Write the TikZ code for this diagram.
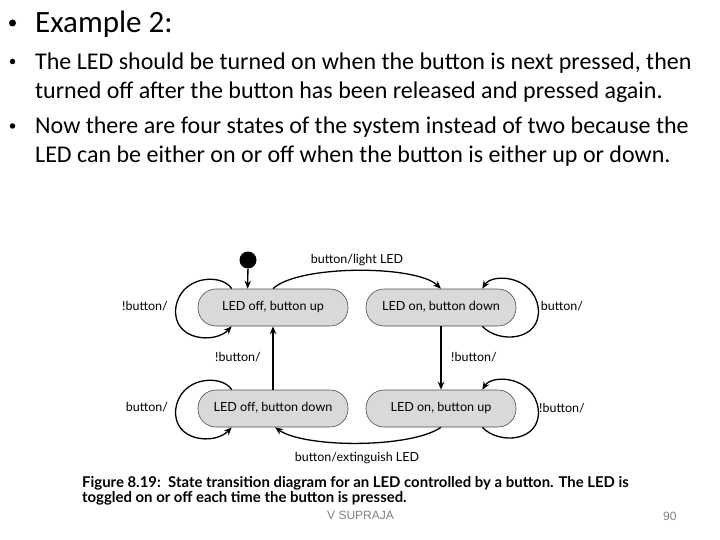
\documentclass[tikz,border=0pt]{standalone}
\usepackage{fontspec}
\setmainfont{Carlito}
\newfontfamily\diagfont{Lato}
\newfontfamily\footfont{Liberation Sans}
\usetikzlibrary{calc,arrows.meta}
\begin{document}
\begin{tikzpicture}[x=1pt,y=-1pt,
  state/.style={draw=black!70, line width=0.6pt, fill=black!15, rounded corners=18pt,
    minimum width=150pt, minimum height=37pt, inner sep=0pt, text height=9pt, text depth=3pt,
    font=\diagfont\fontsize{12.6}{14}\selectfont},
  lbl/.style={inner sep=0pt, text height=9pt, text depth=3pt, font=\diagfont\fontsize{12.5}{14}\selectfont},
  arr/.style={-{Stealth[length=8pt,width=6.5pt]}, line width=1.3pt},
  txt/.style={anchor=base west, inner sep=0pt, font=\fontsize{24}{28}\selectfont},
  bul/.style={circle, fill=black, inner sep=0pt, minimum size=#1},
  capt/.style={anchor=base west, inner sep=0pt, font=\diagfont\bfseries\fontsize{14.9}{15}\selectfont},
  foot/.style={anchor=base west, inner sep=0pt, text=black!50, font=\footfont\fontsize{12}{14}\selectfont},
]
\useasboundingbox (0,0) rectangle (720,540);

% slide text
\node[bul=7pt] (b0) at (12.5,23) {};
\node[txt, font=\fontsize{31}{34}\selectfont] (title) at (35,33) {Example 2:};
\node[bul=5.5pt] (b1) at (12.5,61.5) {};
\node[txt] (t1) at (35,70) {The LED should be turned on when the button is next pressed, then};
\node[txt] (t2) at (35,99) {turned off after the button has been released and pressed again.};
\node[bul=5.5pt] (b2) at (12.5,126) {};
\node[txt] (t3) at (35,134) {Now there are four states of the system instead of two because the};
\node[txt] (t4) at (35,163) {LED can be either on or off when the button is either up or down.};

% states
\node[bul=17pt] (init) at (248,260) {};
\node[state] (s1) at (273,307.5) {LED off, button up};
\node[state] (s2) at (441,307.5) {LED on, button down};
\node[state] (s3) at (273,408.5) {LED off, button down};
\node[state] (s4) at (441,408.5) {LED on, button up};

% initial arrow
\draw[arr] (init) -- ($(s1.north west)+(50,0)$);

% self loops
\draw[arr] ($(s1.north west)+(34,0)$) .. controls +(-10,-16) and +(4,-33) .. ($(s1.west)+(-22,1)$)
  .. controls +(-3,32) and +(-17,18) .. ($(s1.south west)+(34,0)$);
\draw[arr] ($(s3.north west)+(34,0)$) .. controls +(-10,-16) and +(4,-33) .. ($(s3.west)+(-22,1)$)
  .. controls +(-3,32) and +(-17,18) .. ($(s3.south west)+(34,0)$);
\draw[arr] ($(s2.south east)+(-34,0)$) .. controls +(17,18) and +(3,32) .. ($(s2.east)+(22,1)$)
  .. controls +(-4,-33) and +(10,-16) .. ($(s2.north east)+(-34,0)$);
\draw[arr] ($(s4.south east)+(-34,0)$) .. controls +(17,18) and +(3,32) .. ($(s4.east)+(22,1)$)
  .. controls +(-4,-33) and +(10,-16) .. ($(s4.north east)+(-34,0)$);

% transitions
\draw[arr] (s1.north) .. controls +(25,-24) and +(-25,-24) .. (s2.north);
\draw[arr] (s2.south) -- (s4.north);
\draw[arr] (s4.south) .. controls +(-30,21) and +(30,21) .. ($(s3.south)+(2,0)$);
\draw[arr] (s3.north) -- (s1.south);

% labels
\node[lbl] (l1) at (145,307) {!button/};
\node[lbl] (l2) at (562,307) {button/};
\node[lbl] (l3) at (147,408) {button/};
\node[lbl] (l4) at (562,409) {!button/};
\node[lbl] (l5) at (357,260) {button/light LED};
\node[lbl] (l6) at (238,358) {!button/};
\node[lbl] (l7) at (474,358) {!button/};
\node[lbl] (l8) at (357,458) {button/extinguish LED};

% caption
\node[capt] (cap1) at (82,487.5) {Figure 8.19:\ \ State transition diagram for an LED controlled by a button. The LED is};
\node[capt] (cap2) at (82,502) {toggled on or off each time the button is pressed.};

% footer
\node[foot] (author) at (327,519) {V SUPRAJA};
\node[foot] (page) at (663,520) {90};
\end{tikzpicture}
\end{document}
